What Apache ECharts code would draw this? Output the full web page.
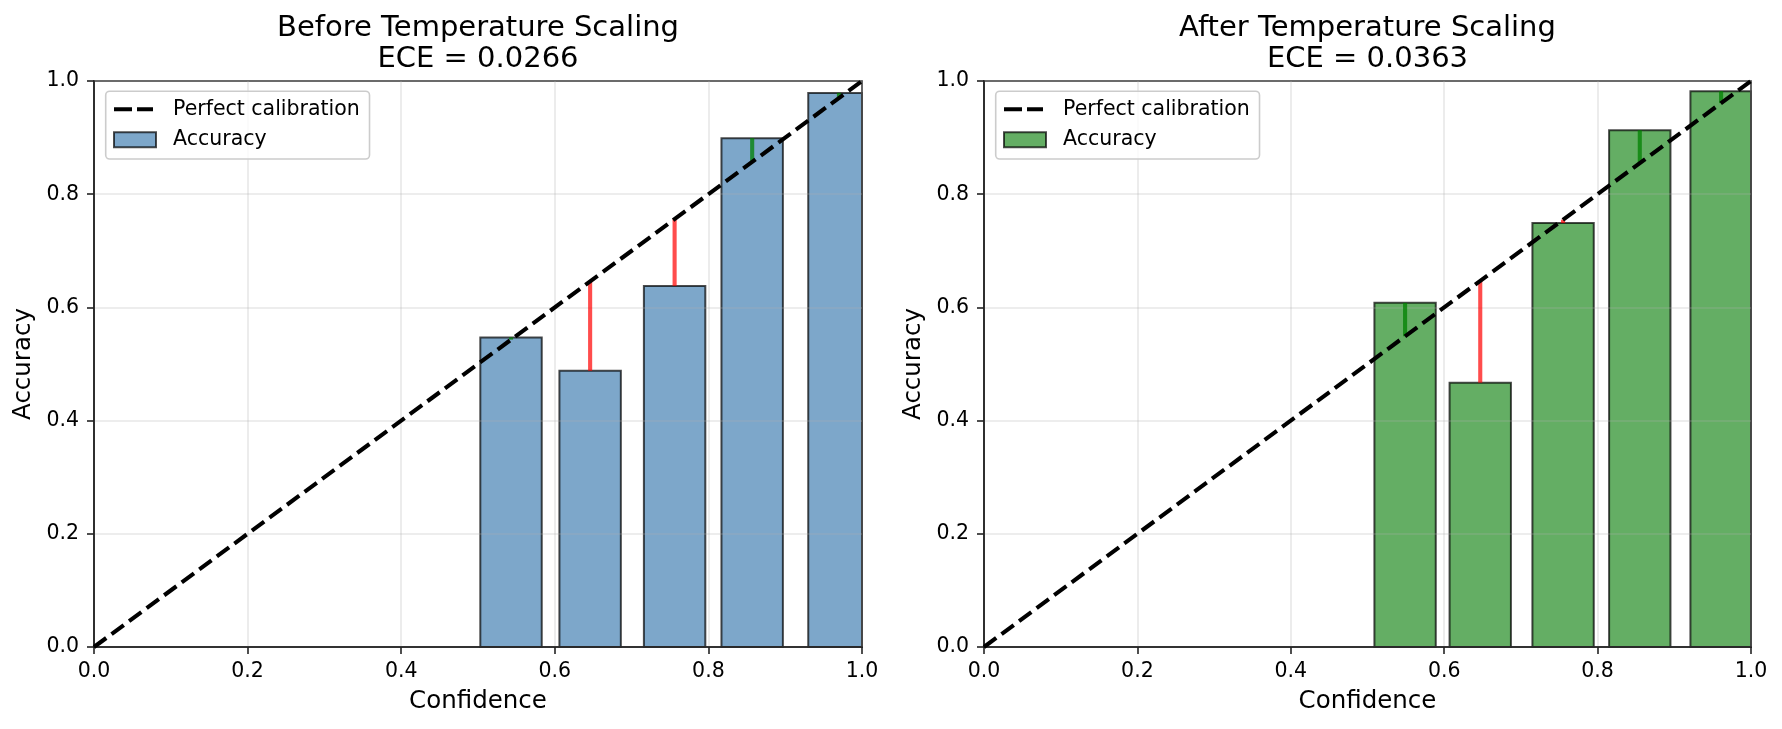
<!DOCTYPE html>
<html>
<head>
<meta charset="utf-8">
<script src="https://cdn.jsdelivr.net/npm/echarts@6/dist/echarts.min.js"></script>
<style>
html,body{margin:0;padding:0;background:#fff;}
#chart{width:1782px;height:729px;}
</style>
</head>
<body>
<div id="chart"></div>
<script>
// ---- data ----
const panelTitles = ['Before Temperature Scaling', 'After Temperature Scaling'];
const eceValues = ['0.0266', '0.0363'];
const confBefore = [0.543, 0.646, 0.756, 0.857, 0.970];
const accBefore  = [0.547, 0.488, 0.638, 0.899, 0.979];
const confAfter  = [0.549, 0.647, 0.755, 0.855, 0.961];
const accAfter   = [0.608, 0.467, 0.749, 0.913, 0.982];
const diagonal   = [[0, 0], [1, 1]];
const tickValues = [0.0, 0.2, 0.4, 0.6, 0.8, 1.0];
const BAR_WIDTH = 0.08; // bin width 0.1 * 0.8

const FONT = 'DejaVu Sans';
const grids = [
  {left: 94, top: 81, width: 768, height: 566},
  {left: 984, top: 81, width: 767, height: 566}
];
const barColors = ['rgba(70,130,180,0.7)', 'rgba(34,139,34,0.7)'];
const panels = [
  {conf: confBefore, acc: accBefore},
  {conf: confAfter, acc: accAfter}
];

function axisCommon(i, isX) {
  return {
    type: 'value', gridIndex: i, min: 0, max: 1, interval: 0.2,
    name: isX ? 'Confidence' : 'Accuracy',
    nameLocation: 'middle',
    nameGap: isX ? 42.5 : 57.5,
    nameRotate: isX ? 0 : 90,
    nameTextStyle: {fontFamily: FONT, fontSize: 24.5, color: '#000', lineHeight: 25},
    axisLine: {show: true, onZero: false, lineStyle: {color: '#222', width: 1.6}},
    axisTick: {show: true, inside: false, length: 7, lineStyle: {color: '#222', width: 1.6}},
    axisLabel: {
      fontFamily: FONT, fontSize: 20.5, color: '#000', lineHeight: 21,
      margin: isX ? 14.5 : 15,
      formatter: v => tickValues.find(t => Math.abs(t - v) < 1e-9).toFixed(1)
    },
    splitLine: {show: true, lineStyle: {color: 'rgba(176,176,176,0.3)', width: 1.6}}
  };
}

const option = {
  animation: false,
  backgroundColor: '#fff',
  title: panelTitles.map((t, i) => ({
    text: t + '\nECE = ' + eceValues[i],
    left: grids[i].left + grids[i].width / 2,
    top: 13,
    textAlign: 'center',
    padding: 0,
    textStyle: {fontFamily: FONT, fontSize: 29, fontWeight: 'normal', color: '#000', lineHeight: 31}
  })),
  grid: grids.map(g => Object.assign({show: true, borderColor: '#222', borderWidth: 1.6, backgroundColor: 'transparent'}, g)),
  xAxis: [axisCommon(0, true), axisCommon(1, true)],
  yAxis: [axisCommon(0, false), axisCommon(1, false)],
  legend: [0, 1].map(i => ({
    orient: 'vertical',
    left: grids[i].left + 11.7,
    top: 91.2,
    padding: [7.5, 9.7, 8.8, 7.3],
    itemGap: 9.5,
    itemWidth: 42,
    itemHeight: 15,
    backgroundColor: 'rgba(255,255,255,0.8)',
    borderColor: '#cccccc',
    borderWidth: 1.6,
    borderRadius: 4,
    selectedMode: false,
    formatter: n => n.split('|')[0],
    textStyle: {fontFamily: FONT, fontSize: 20.5, color: '#000', lineHeight: 21, padding: [0, 0, 0, 12]},
    data: [
      {name: 'Perfect calibration|' + i, icon: 'path://M0,0M42,15M0,5.5h18v4h-18zM23,5.5h16v4h-16z',
       itemStyle: {color: '#000', borderWidth: 0}},
      {name: 'Accuracy|' + i, icon: 'rect',
       itemStyle: {color: barColors[i], borderColor: 'rgba(0,0,0,0.7)', borderWidth: 2}}
    ]
  })),
  series: []
};

panels.forEach((p, i) => {
  const pts = p.conf.map((c, k) => [c, p.acc[k]]);
  option.series.push({
    type: 'custom', name: 'Accuracy|' + i,
    xAxisIndex: i, yAxisIndex: i, z: -1,
    itemStyle: {color: barColors[i], borderColor: 'rgba(0,0,0,0.7)', borderWidth: 2},
    data: pts,
    renderItem: function (params, api) {
      const c = api.value(0), a = api.value(1);
      const p0 = api.coord([c - BAR_WIDTH / 2, a]);
      const p1 = api.coord([c + BAR_WIDTH / 2, 0]);
      const cs = params.coordSys;
      const rect = echarts.graphic.clipRectByRect(
        {x: p0[0], y: p0[1], width: p1[0] - p0[0], height: p1[1] - p0[1]},
        {x: cs.x, y: cs.y, width: cs.width, height: cs.height});
      if (!rect) return null;
      return {type: 'rect', shape: rect, style: api.style()};
    }
  });
  option.series.push({
    type: 'custom', name: 'gap|' + i,
    xAxisIndex: i, yAxisIndex: i, z: 3, silent: true,
    data: pts,
    renderItem: function (params, api) {
      const c = api.value(0), a = api.value(1);
      const q1 = api.coord([c, a]);
      const q2 = api.coord([c, c]);
      return {
        type: 'line',
        shape: {x1: q1[0], y1: q1[1], x2: q2[0], y2: q2[1]},
        style: {stroke: a >= c ? 'rgba(0,128,0,0.75)' : 'rgba(255,0,0,0.7)', lineWidth: 4.1}
      };
    }
  });
  option.series.push({
    type: 'line', name: 'Perfect calibration|' + i,
    xAxisIndex: i, yAxisIndex: i, z: 4,
    data: diagonal,
    symbol: 'none', showSymbol: false,
    itemStyle: {color: '#000'},
    lineStyle: {color: '#000', width: 4.1, type: [15.2, 6.6]}
  });
});

const chart = echarts.init(document.getElementById('chart'), null, {renderer: 'canvas'});
chart.setOption(option);
</script>
</body>
</html>
